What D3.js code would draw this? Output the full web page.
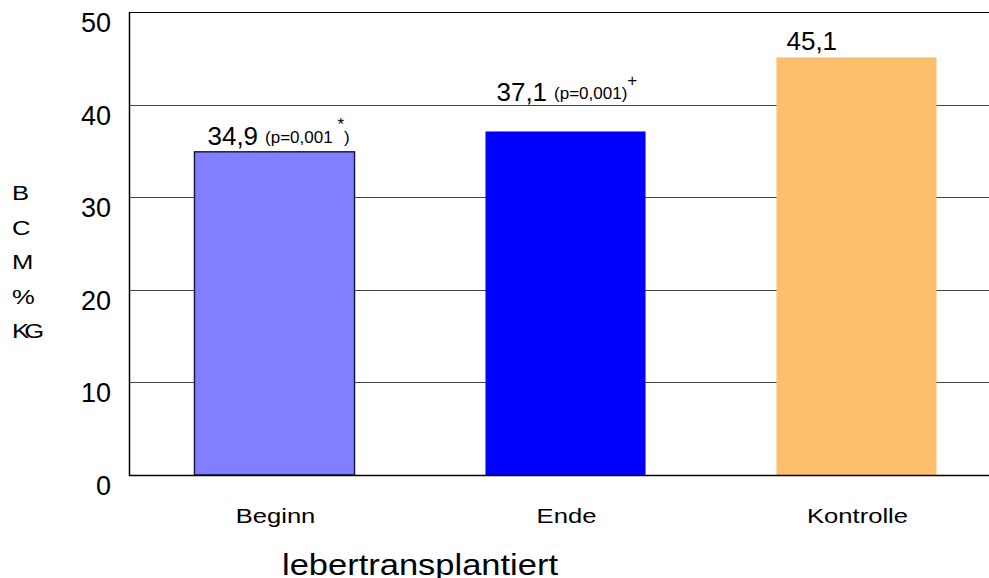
<!DOCTYPE html>
<html><head><meta charset="utf-8">
<script src="https://cdn.jsdelivr.net/npm/d3@7"></script>
<style>body{margin:0;background:#fff;} svg{display:block;font-family:"Liberation Sans",Arial,sans-serif;}</style>
</head><body>
<svg id="c" width="989" height="578"></svg>
<script>
const categories = ["Beginn", "Ende", "Kontrolle"];
const values = [34.9, 37.1, 45.1];
const valueLabels = ["34,9", "37,1", "45,1"];
const pLabels = ["(p=0,001 ", "(p=0,001)", ""];
const pMarks = ["*", "+", ""];
const pClose = [")", "", ""];
const colors = ["#8080FF", "#0000FF", "#FDBF6D"];
const strokes = ["#1a1a40", "none", "none"];
const yTicks = [0, 10, 20, 30, 40, 50];
const yLabelLetters = ["B", "C", "M", "%", "KG"];
const xTitle = "lebertransplantiert";

const svg = d3.select("#c");
const x = d3.scaleBand().domain(categories).range([129, 1002]).paddingInner(0.45).paddingOuter(0.225);
const y = d3.scaleLinear().domain([0, 50]).range([475, 12]);
const sx = 1.22;

// gridlines
svg.append("g").selectAll("line").data(yTicks.filter(t => t > 0 && t < 50)).join("line")
  .attr("x1", 129).attr("x2", 989).attr("y1", d => Math.round(y(d)) + 0.5).attr("y2", d => Math.round(y(d)) + 0.5)
  .attr("stroke", "#444").attr("stroke-width", 1);
svg.append("line").attr("x1", 129).attr("x2", 989).attr("y1", y(50) + 0.5).attr("y2", y(50) + 0.5)
  .attr("stroke", "#000").attr("stroke-width", 1.2);

// bars
svg.append("g").selectAll("rect").data(categories).join("rect")
  .attr("x", d => x(d)).attr("width", x.bandwidth())
  .attr("y", (d, i) => y(values[i])).attr("height", (d, i) => y(0) - y(values[i]))
  .attr("fill", (d, i) => colors[i])
  .attr("stroke", (d, i) => strokes[i]).attr("stroke-width", 1.5);

// axes lines
svg.append("line").attr("x1", 129.5).attr("x2", 129.5).attr("y1", 12).attr("y2", 476).attr("stroke", "#000").attr("stroke-width", 1.5);
svg.append("line").attr("x1", 129).attr("x2", 989).attr("y1", 475.5).attr("y2", 475.5).attr("stroke", "#000").attr("stroke-width", 1.5);

// y tick labels
svg.append("g").selectAll("text").data(yTicks).join("text")
  .attr("x", 111).attr("y", d => y(d) + 20).attr("text-anchor", "end")
  .attr("font-size", 27).attr("fill", "#000").text(d => d);

// y axis label letters
svg.append("g").selectAll("text").data(yLabelLetters).join("text")
  .attr("transform", (d, i) => `translate(12,${200 + i * 34.5}) scale(${sx},1)`)
  .attr("font-size", 21).attr("letter-spacing", (d, i) => d.length > 1 ? -4 : 0)
  .text(d => d);

// category labels
svg.append("g").selectAll("text").data(categories).join("text")
  .attr("transform", d => `translate(${x(d) + x.bandwidth() / 2 + 1},523) scale(${sx},1)`)
  .attr("text-anchor", "middle")
  .attr("font-size", 21).text(d => d);

// value labels
const offsets = [13, 11, 10];
const lift = [7, 30, 7];
categories.forEach((c, i) => {
  const t = svg.append("text").attr("x", x(c) + offsets[i]).attr("y", y(values[i]) - lift[i]).attr("font-size", 26);
  t.append("tspan").text(valueLabels[i]);
  if (pLabels[i]) {
    t.append("tspan").attr("font-size", 17).attr("dx", 7).attr("dy", -2).text(pLabels[i]);
    t.append("tspan").attr("font-size", 17).attr("dy", -13).attr("dx", 0).text(pMarks[i]);
    if (pClose[i]) t.append("tspan").attr("font-size", 17).attr("dy", 13).attr("dx", 0).text(pClose[i]);
  }
});

// x title
svg.append("text").attr("x", 282).attr("y", 575).attr("font-size", 30)
  .attr("textLength", 276).attr("lengthAdjust", "spacingAndGlyphs").text(xTitle);
</script>
</body></html>
